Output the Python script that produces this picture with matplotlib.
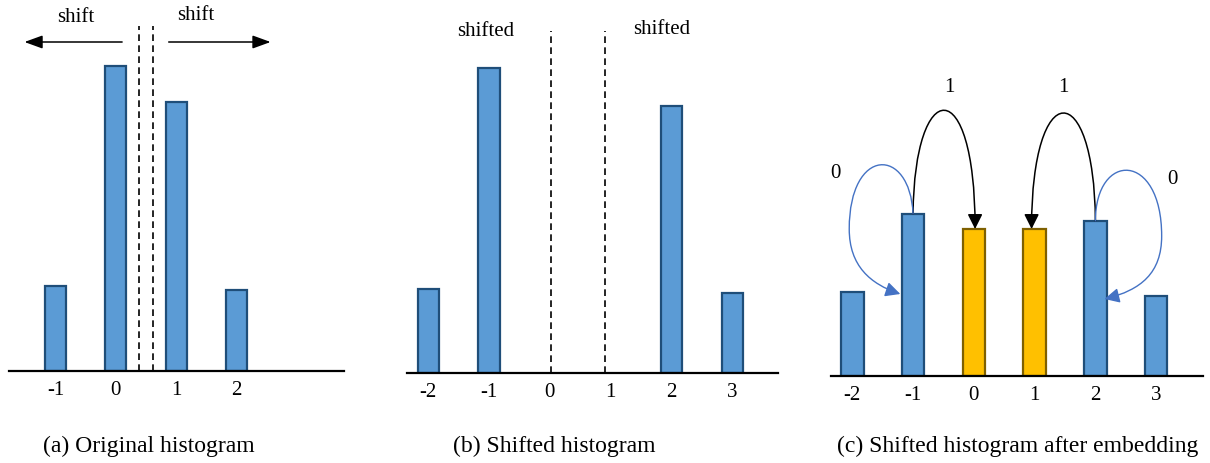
import matplotlib
matplotlib.use('Agg')
import matplotlib.pyplot as plt
from matplotlib.path import Path
from matplotlib.patches import FancyArrowPatch

plt.rcParams['font.family'] = ['Liberation Serif', 'DejaVu Serif']

# data (heights, arbitrary units ~ pixels)
bins_a = [-1, 0, 1, 2]
heights_a = [85, 305, 269, 81]

bins_b = [-2, -1, 2, 3]
heights_b = [84, 305, 267, 80]
ticks_b = [-2, -1, 0, 1, 2, 3]

bins_c = [-2, -1, 0, 1, 2, 3]
heights_c = [84, 162, 147, 147, 155, 80]
colors_c = ['blue', 'blue', 'orange', 'orange', 'blue', 'blue']

captions = ['(a) Original histogram', '(b) Shifted histogram',
            '(c) Shifted histogram after embedding']

BLUE, BLUE_EDGE = '#5B9BD5', '#1F4E79'
ORANGE, ORANGE_EDGE = '#FFC000', '#7F6000'
ARROW_BLUE = '#4472C4'

W, H = 1210, 464
fig = plt.figure(figsize=(W / 100, H / 100), dpi=100)


def make_ax(left, right, base, xlim):
    # axes in pixel units: bottom spine is the baseline
    ax = fig.add_axes([left / W, (H - base) / H, (right - left) / W, base / H])
    ax.set_xlim(*xlim)
    ax.set_ylim(0, base)
    for s in ['top', 'left', 'right']:
        ax.spines[s].set_visible(False)
    ax.spines['bottom'].set_linewidth(1.6)
    ax.set_yticks([])
    ax.tick_params(axis='x', length=0, pad=6.5, labelsize=15)
    ax.patch.set_alpha(0)
    return ax


head_a = dict(arrowstyle='-|>,head_length=1.1,head_width=0.4', color='black', lw=1.1)

# ---- (a)
ax = make_ax(9, 344, 372, (-1.77, 3.78))
ax.bar(bins_a, heights_a, width=0.35, color=BLUE, edgecolor=BLUE_EDGE, linewidth=1.6)
ax.set_xticks(bins_a)
ax.set_xticklabels([str(b) for b in bins_a])
for xd in [0.38, 0.61]:
    ax.plot([xd, xd], [0, 345], color='black', ls=(0, (4, 2.6)), lw=1.2, clip_on=False)
ax.annotate('', xy=(-1.56, 329), xytext=(0.15, 329), arrowprops=head_a,
            annotation_clip=False)
ax.annotate('', xy=(2.61, 329), xytext=(0.83, 329), arrowprops=head_a,
            annotation_clip=False)
ax.text(-0.66, 354, 'shift', fontsize=15, ha='center', va='center', clip_on=False)
ax.text(1.33, 357, 'shift', fontsize=15, ha='center', va='center', clip_on=False)
ax.text(0.55, -74, captions[0], fontsize=17, ha='center', va='center')

# ---- (b)
ax = make_ax(407, 778, 374, (-2.35, 3.75))
ax.bar(bins_b, heights_b, width=0.35, color=BLUE, edgecolor=BLUE_EDGE, linewidth=1.6)
ax.set_xticks(ticks_b)
ax.set_xticklabels([str(t) for t in ticks_b])
for xd in [0.02, 0.9]:
    ax.plot([xd, xd], [0, 342], color='black', ls=(0, (4, 2.6)), lw=1.2, clip_on=False)
ax.text(-1.05, 343, 'shifted', fontsize=15, ha='center', va='center', clip_on=False)
ax.text(1.84, 344, 'shifted', fontsize=15, ha='center', va='center', clip_on=False)
ax.text(0.07, -72, captions[1], fontsize=17, ha='center', va='center')

# ---- (c)
ax = make_ax(831, 1203, 377, (-2.35, 3.77))
fills = [BLUE if c == 'blue' else ORANGE for c in colors_c]
edges = [BLUE_EDGE if c == 'blue' else ORANGE_EDGE for c in colors_c]
ax.bar(bins_c, heights_c, width=0.37, color=fills, edgecolor=edges, linewidth=1.6)
ax.set_xticks(bins_c)
ax.set_xticklabels([str(b) for b in bins_c])
ax.text(0.72, -69, captions[2], fontsize=17, ha='center', va='center')

C4 = [Path.MOVETO, Path.CURVE4, Path.CURVE4, Path.CURVE4]
h = dict(zip(bins_c, heights_c))

# black arrows: top of -1 -> 0, top of 2 -> 1
black_paths = [
    [(-1.0, h[-1]), (-0.98, 300), (0.02, 305), (0.02, h[0])],
    [(2.0, h[2]), (1.98, 300), (0.95, 300), (0.95, h[1])],
]
for verts in black_paths:
    ax.add_patch(FancyArrowPatch(path=Path(verts, C4),
                                 arrowstyle='-|>,head_length=9,head_width=4.5',
                                 color='black', lw=1.1, clip_on=False))

# blue loops back onto the same bar
blue_paths = [
    [(-1.0, h[-1]), (-1.05, 230), (-2.05, 230), (-2.05, 147),
     (-2.05, 110), (-1.7, 92), (-1.21, 82)],
    [(2.0, h[2]), (2.0, 225), (3.09, 225), (3.09, 140),
     (3.09, 103), (2.75, 86), (2.15, 77)],
]
C7 = [Path.MOVETO] + [Path.CURVE4] * 6
for verts in blue_paths:
    ax.add_patch(FancyArrowPatch(path=Path(verts, C7),
                                 arrowstyle='-|>,head_length=9,head_width=4.5',
                                 color=ARROW_BLUE, lw=1.0, clip_on=False))

ax.text(-2.28, 204, '0', fontsize=15, ha='center', va='center', clip_on=False)
ax.text(-0.4, 289, '1', fontsize=15, ha='center', va='center', clip_on=False)
ax.text(1.48, 289, '1', fontsize=15, ha='center', va='center', clip_on=False)
ax.text(3.26, 197, '0', fontsize=15, ha='center', va='center', clip_on=False)

fig.savefig('out.png', dpi=100)
